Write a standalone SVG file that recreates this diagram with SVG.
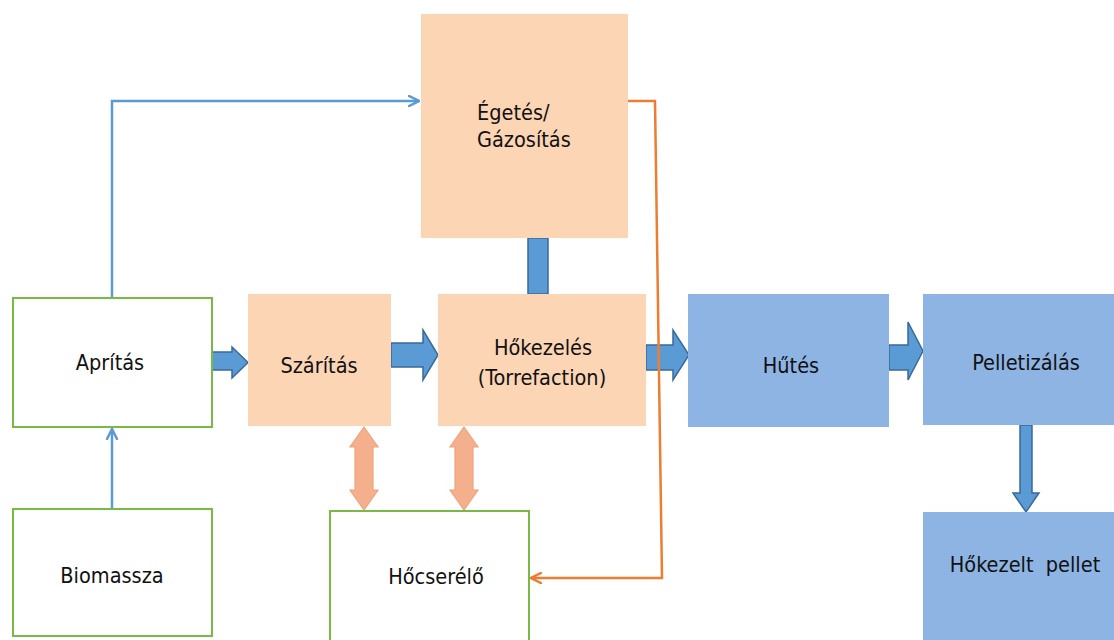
<svg xmlns="http://www.w3.org/2000/svg" width="1114" height="640" viewBox="0 0 1114 640">
<defs>
<style>
.peach{fill:#FCD5B5}
.blue{fill:#8EB4E3}
.green{fill:#FFFFFF;stroke:#77BB45;stroke-width:2}
.t{font-family:"DejaVu Sans Condensed","DejaVu Sans",sans-serif;font-stretch:condensed;font-size:21.5px;fill:#111;text-anchor:middle}
.barrow{fill:#5B9BD5;stroke:#3A6A99;stroke-width:1.5;stroke-linejoin:miter}
.oarrow{fill:#F4B08D;stroke:#F2A27A;stroke-width:1.2}
.bline{fill:none;stroke:#5B9BD5;stroke-width:2.5}
.oline{fill:none;stroke:#ED7D31;stroke-width:2.5}
</style>
<marker id="ob" viewBox="0 0 12 12" refX="11" refY="6" markerWidth="12" markerHeight="12" markerUnits="userSpaceOnUse" orient="auto">
<path d="M1,1 L11,6 L1,11" fill="none" stroke="#5B9BD5" stroke-width="2.5" stroke-linecap="round"/>
</marker>
<marker id="oo" viewBox="0 0 12 12" refX="11" refY="6" markerWidth="12" markerHeight="12" markerUnits="userSpaceOnUse" orient="auto">
<path d="M1,1 L11,6 L1,11" fill="none" stroke="#ED7D31" stroke-width="2.5" stroke-linecap="round"/>
</marker>
</defs>
<rect width="1114" height="640" fill="#FFFFFF"/>

<g id="connectors">
<rect x="528" y="238" width="20" height="56" class="barrow"/>
<path class="barrow" d="M212,352 L232,352 L232,347 L248,362.5 L232,378 L232,370 L212,370 Z"/>
<path class="barrow" d="M391,343 L423,343 L423,330 L438,355 L423,380 L423,367 L391,367 Z"/>
<path class="barrow" d="M646,345 L673,345 L673,330 L689,355 L673,380 L673,370 L646,370 Z"/>
<path class="barrow" d="M889,345 L908,345 L908,322 L923,351 L908,380 L908,370 L889,370 Z"/>
<path class="barrow" d="M1020,425 L1032,425 L1032,493 L1039,493 L1026,512 L1013,493 L1020,493 Z"/>
<path class="oarrow" d="M364,427 L378,447 L373,447 L373,490 L378,490 L364,510 L350,490 L355,490 L355,447 L350,447 Z"/>
<path class="oarrow" d="M464,427 L478,447 L473,447 L473,490 L478,490 L464,510 L450,490 L455,490 L455,447 L450,447 Z"/>
<path class="bline" d="M112,298 L112,101 L419,101" marker-end="url(#ob)"/>
<path class="bline" d="M112,509 L112,429" marker-end="url(#ob)"/>
<path class="oline" d="M628,101 L655,101 L662,578 L531,578" marker-end="url(#oo)"/>
</g>

<g id="egetes"><rect x="421" y="14" width="207" height="224" class="peach"/>
<text class="t" x="477" y="120" style="text-anchor:start">Égetés/</text>
<text class="t" x="477" y="147" style="text-anchor:start">Gázosítás</text></g>
<g id="apritas"><rect x="13" y="298" width="199" height="129" class="green"/>
<text class="t" x="110" y="370">Aprítás</text></g>
<g id="szaritas"><rect x="248" y="294" width="143" height="132" class="peach"/>
<text class="t" x="319" y="373">Szárítás</text></g>
<g id="hokezeles"><rect x="438" y="294" width="208" height="132" class="peach"/>
<text class="t" x="543" y="355">Hőkezelés</text>
<text class="t" x="542" y="385">(Torrefaction)</text></g>
<g id="hutes"><rect x="688" y="294" width="201" height="133" class="blue"/>
<text class="t" x="791" y="373">Hűtés</text></g>
<g id="pelletizalas"><rect x="923" y="294" width="191" height="131" class="blue"/>
<text class="t" x="1026" y="370">Pelletizálás</text></g>
<g id="pellet"><rect x="923" y="512" width="191" height="128" class="blue"/>
<text class="t" x="1025" y="572" xml:space="preserve">Hőkezelt  pellet</text></g>
<g id="biomassza"><rect x="13" y="509" width="199" height="127" class="green"/>
<text class="t" x="112" y="583">Biomassza</text></g>
<g id="hocserelo"><rect x="330" y="511" width="199" height="130" class="green"/>
<text class="t" x="436" y="584">Hőcserélő</text></g>
</svg>
